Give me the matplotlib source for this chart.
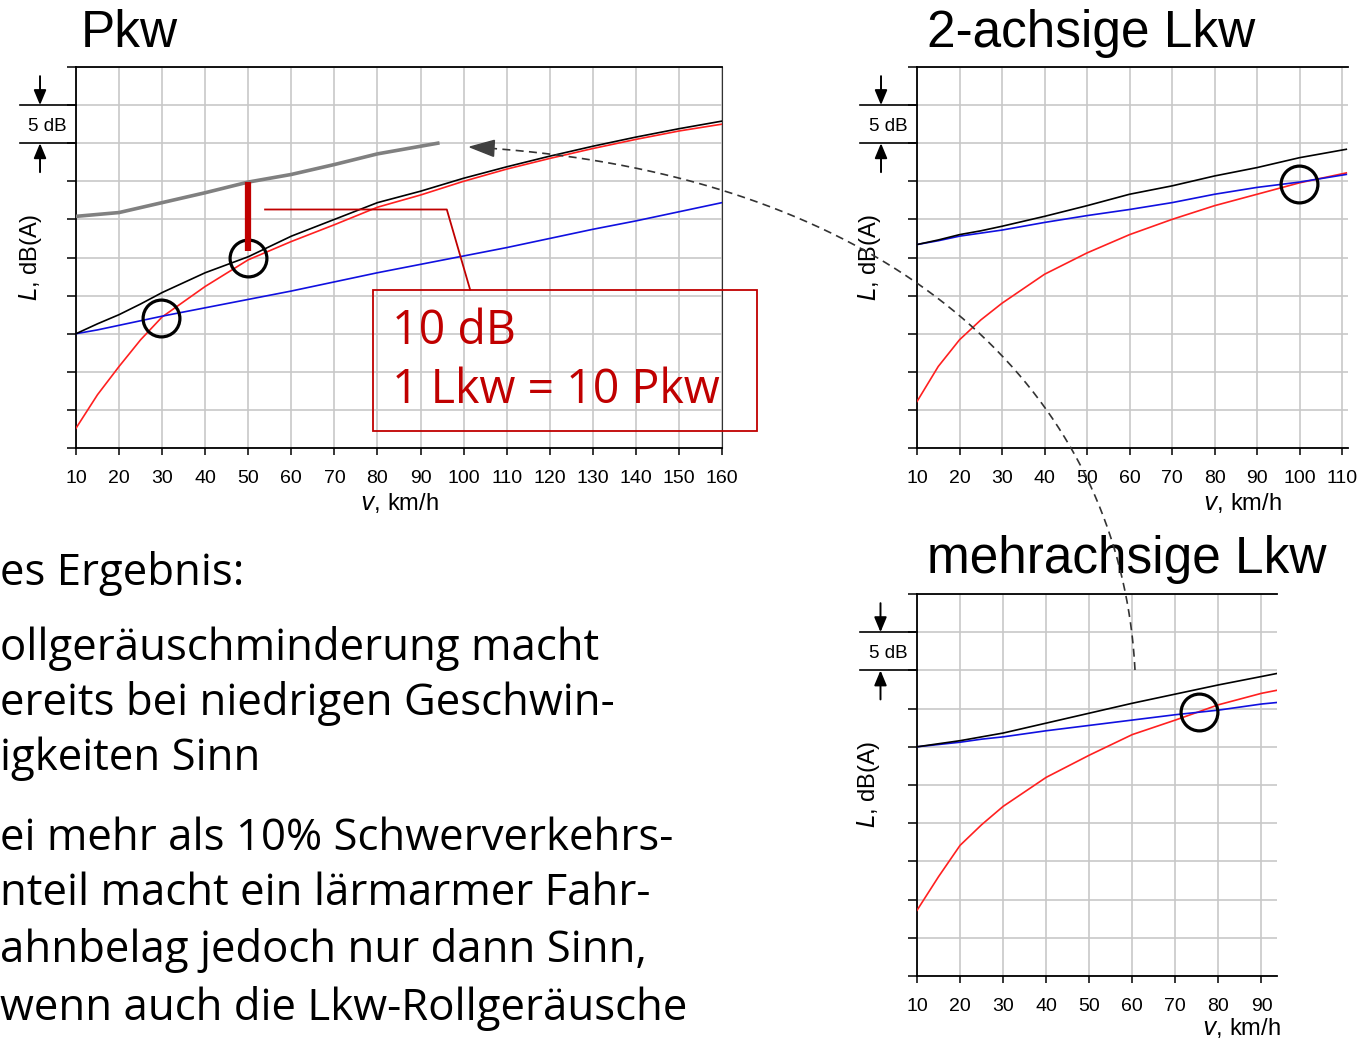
import matplotlib
matplotlib.use('Agg')
import matplotlib.pyplot as plt
from matplotlib.lines import Line2D
from matplotlib.patches import Polygon, Rectangle
import numpy as np

plt.rcParams['font.family'] = 'Liberation Sans'

W, H = 1369, 1040

# --- Pkw ---
v_pkw = [10, 15, 20, 25, 30, 40, 50, 60, 70, 80, 90, 100, 110, 120, 130, 140, 150, 160]
pkw_black = [15.0, 16.3, 17.5, 18.9, 20.4, 23.0, 25.1, 27.8, 30.0, 32.2, 33.7, 35.4, 36.9, 38.3, 39.6, 40.8, 41.9, 42.9]
pkw_blue = [15.0, 15.5, 16.1, 16.7, 17.3, 18.4, 19.5, 20.6, 21.8, 23.0, 24.1, 25.2, 26.3, 27.5, 28.7, 29.8, 31.0, 32.2]
pkw_red = [2.6, 7.0, 10.7, 14.2, 17.2, 21.2, 24.7, 27.1, 29.3, 31.6, 33.2, 35.0, 36.6, 38.0, 39.3, 40.5, 41.6, 42.5]
v_grey = [10, 20, 30, 40, 50, 60, 70, 80, 90, 94]
lkw_grey = [30.4, 30.9, 32.2, 33.5, 34.9, 35.9, 37.2, 38.6, 39.6, 40.0]
pkw_circles_v = [29.7, 49.9]
pkw_circles_L = [17.1, 25.0]

# --- 2-achsige Lkw ---
v_2a = [10, 15, 20, 25, 30, 40, 50, 60, 70, 80, 90, 100, 111]
a2_black = [26.7, 27.3, 28.0, 28.5, 29.1, 30.4, 31.8, 33.3, 34.4, 35.7, 36.8, 38.1, 39.2]
a2_blue = [26.7, 27.2, 27.8, 28.2, 28.6, 29.6, 30.5, 31.3, 32.2, 33.3, 34.2, 34.9, 35.9]
a2_red = [6.1, 10.7, 14.2, 16.8, 19.0, 22.8, 25.6, 28.0, 30.0, 31.8, 33.3, 34.8, 36.1]
a2_circle = (99.9, 34.7)

# --- mehrachsige Lkw ---
v_ma = [10, 15, 20, 25, 30, 40, 50, 60, 70, 80, 90, 93.6]
ma_black = [30.0, 30.4, 30.8, 31.3, 31.8, 33.1, 34.4, 35.7, 36.9, 38.1, 39.2, 39.6]
ma_blue = [30.0, 30.3, 30.6, 31.0, 31.3, 32.1, 32.8, 33.5, 34.2, 34.8, 35.6, 35.8]
ma_red = [8.6, 13.0, 17.1, 19.8, 22.2, 26.0, 28.9, 31.6, 33.5, 35.5, 37.0, 37.4]
ma_circle = (75.4, 34.5)

body_lines = [
    ("es Ergebnis:", 0, 585),
    ("ollgeräuschminderung macht", 0, 660),
    ("ereits bei niedrigen Geschwin-", 0, 715),
    ("igkeiten Sinn", 0, 770),
    ("ei mehr als 10% Schwerverkehrs-", 0, 850),
    ("nteil macht ein lärmarmer Fahr-", 0, 905),
    ("ahnbelag jedoch nur dann Sinn,", 0, 962),
    ("wenn auch die Lkw-Rollgeräusche", 0, 1020),
]

RED = '#C00000'
fig = plt.figure(figsize=(W / 100, H / 100), dpi=100)


def box(l, t, r, b):
    return [l / W, 1 - b / H, (r - l) / W, (b - t) / H]


def panel(rect, xmax, xticks, right_spine=False):
    ax = fig.add_axes(rect)
    ax.set_xlim(10, xmax)
    ax.set_ylim(0, 50)
    ax.set_xticks(xticks)
    ax.set_yticks(np.arange(0, 51, 5))
    ax.set_yticklabels([])
    ax.grid(color='#c8c8c8', lw=1.2)
    ax.set_axisbelow(True)
    ax.tick_params(axis='x', length=5, width=1.1, pad=11, labelsize=14)
    ax.tick_params(axis='y', length=6.5, width=1.1)
    for s in ['left', 'bottom', 'top']:
        ax.spines[s].set_linewidth(1.3)
    ax.spines['right'].set_visible(right_spine)
    if right_spine:
        ax.spines['right'].set_color('#333333')
    ax.patch.set_alpha(0)
    return ax


def db_marker(ax, x_line, x_arrow, x_text):
    tr = ax.get_yaxis_transform()
    for y in (40, 45):
        ax.plot([x_line, 0], [y, y], color='k', lw=1.2, transform=tr, clip_on=False)
    st = dict(arrowstyle='-|>,head_length=0.6,head_width=0.25', mutation_scale=15,
              color='k', lw=1.4, shrinkA=0, shrinkB=0)
    ax.annotate('', xy=(x_arrow, 45), xycoords=tr, xytext=(x_arrow, 48.8), textcoords=tr, arrowprops=st)
    ax.annotate('', xy=(x_arrow, 40), xycoords=tr, xytext=(x_arrow, 36.2), textcoords=tr, arrowprops=st)
    ax.text(x_text, 42.2, '5 dB', transform=tr, ha='center', va='center', fontsize=13.5)


def labels(ax, xl, yl, yx):
    ax.set_xlabel(r'$\it{v}$, km/h', fontsize=17)
    ax.xaxis.set_label_coords(*xl)
    ax.xaxis.label.set_va('center')
    ax.set_ylabel(r'$\it{L}$, dB(A)', fontsize=17)
    ax.yaxis.set_label_coords(yx, yl)
    ax.yaxis.label.set_va('center')


def curves(ax, v, black, blue, red):
    ax.plot(v, red, color='#ff2020', lw=1.2, zorder=3)
    ax.plot(v, blue, color='#1010e0', lw=1.2, zorder=4)
    ax.plot(v, black, color='k', lw=1.2, zorder=5)


# Pkw panel
ax1 = panel(box(76, 67, 722, 448), 160, range(10, 161, 10), right_spine=True)
curves(ax1, v_pkw, pkw_black, pkw_blue, pkw_red)
ax1.plot(v_grey, lkw_grey, color='#808080', lw=2.6, zorder=3)
ax1.plot(pkw_circles_v, pkw_circles_L, 'o', mfc='none', mec='k', ms=26.5, mew=2.3, zorder=6)
ax1.plot([50, 50], [lkw_grey[4], 25.8], color=RED, lw=4.5, solid_capstyle='butt', zorder=7)
ax1.plot([53.9, 96.1, 101.5], [31.3, 31.3, 20.8], color=RED, lw=1.3, zorder=7, clip_on=False)
ax1.add_patch(Rectangle((79.0, 2.24), 89.1, 18.56, fill=False, ec=RED, lw=1.3, zorder=7, clip_on=False))
ax1.text(83.3, 15.3, '10 dB', color=RED, fontsize=33.5, family='Open Sans', va='center', zorder=8)
ax1.text(83.3, 7.6, '1 Lkw = 10 Pkw', color=RED, fontsize=33.5, family='Open Sans', va='center', zorder=8)
db_marker(ax1, -0.0867, -0.0557, -0.045)
labels(ax1, (0.5, -0.144), 0.5, -0.070)

# 2-achsige Lkw panel
ax2 = panel(box(917, 67, 1348, 448), 111.4, range(10, 111, 10))
curves(ax2, v_2a, a2_black, a2_blue, a2_red)
ax2.plot(*a2_circle, 'o', mfc='none', mec='k', ms=26.5, mew=2.3, zorder=6)
db_marker(ax2, -0.132, -0.0835, -0.067)
labels(ax2, (0.754, -0.144), 0.5, -0.111)

# mehrachsige Lkw panel
ax3 = panel(box(917, 594, 1277, 976), 93.6, range(10, 91, 10))
curves(ax3, v_ma, ma_black, ma_blue, ma_red)
ax3.plot(*ma_circle, 'o', mfc='none', mec='k', ms=26.5, mew=2.3, zorder=6)
db_marker(ax3, -0.159, -0.1014, -0.081)
labels(ax3, (0.90, -0.136), 0.503, -0.134)

# titles
for txt, x, y in [('Pkw', 81, 47), ('2-achsige Lkw', 927, 47), ('mehrachsige Lkw', 927, 573)]:
    fig.text(x / W, 1 - y / H, txt, fontsize=37, va='baseline', ha='left')

# body text
for txt, x, y in body_lines:
    fig.text(x / W, 1 - y / H, txt, fontsize=31.5, family='Open Sans', va='baseline', ha='left')

# dashed connector from mehrachsige to Pkw
P0 = np.array([1135, 670.0])
C1 = np.array([1120, 380.0])
C2 = np.array([880, 170.0])
P3 = np.array([470, 147.0])
t = np.linspace(0, 1, 300)[:, None]
pts = (1 - t) ** 3 * P0 + 3 * (1 - t) ** 2 * t * C1 + 3 * (1 - t) * t ** 2 * C2 + t ** 3 * P3
d = (P3 - C2) / np.linalg.norm(P3 - C2)
back = P3 - 24 * d
keep = np.linalg.norm(pts - P3, axis=1) > 23
pts = np.vstack([pts[keep], back])
fig.add_artist(Line2D(pts[:, 0] / W, 1 - pts[:, 1] / H, transform=fig.transFigure,
                      color='#333333', lw=1.2, ls=(0, (4.8, 3.2)), zorder=20))
nrm = np.array([-d[1], d[0]])
head = np.array([P3, back + 8 * nrm, back - 8 * nrm])
fig.add_artist(Polygon(np.column_stack([head[:, 0] / W, 1 - head[:, 1] / H]), closed=True,
                       transform=fig.transFigure, color='#404040', zorder=21))

fig.savefig('out.png', dpi=100)
